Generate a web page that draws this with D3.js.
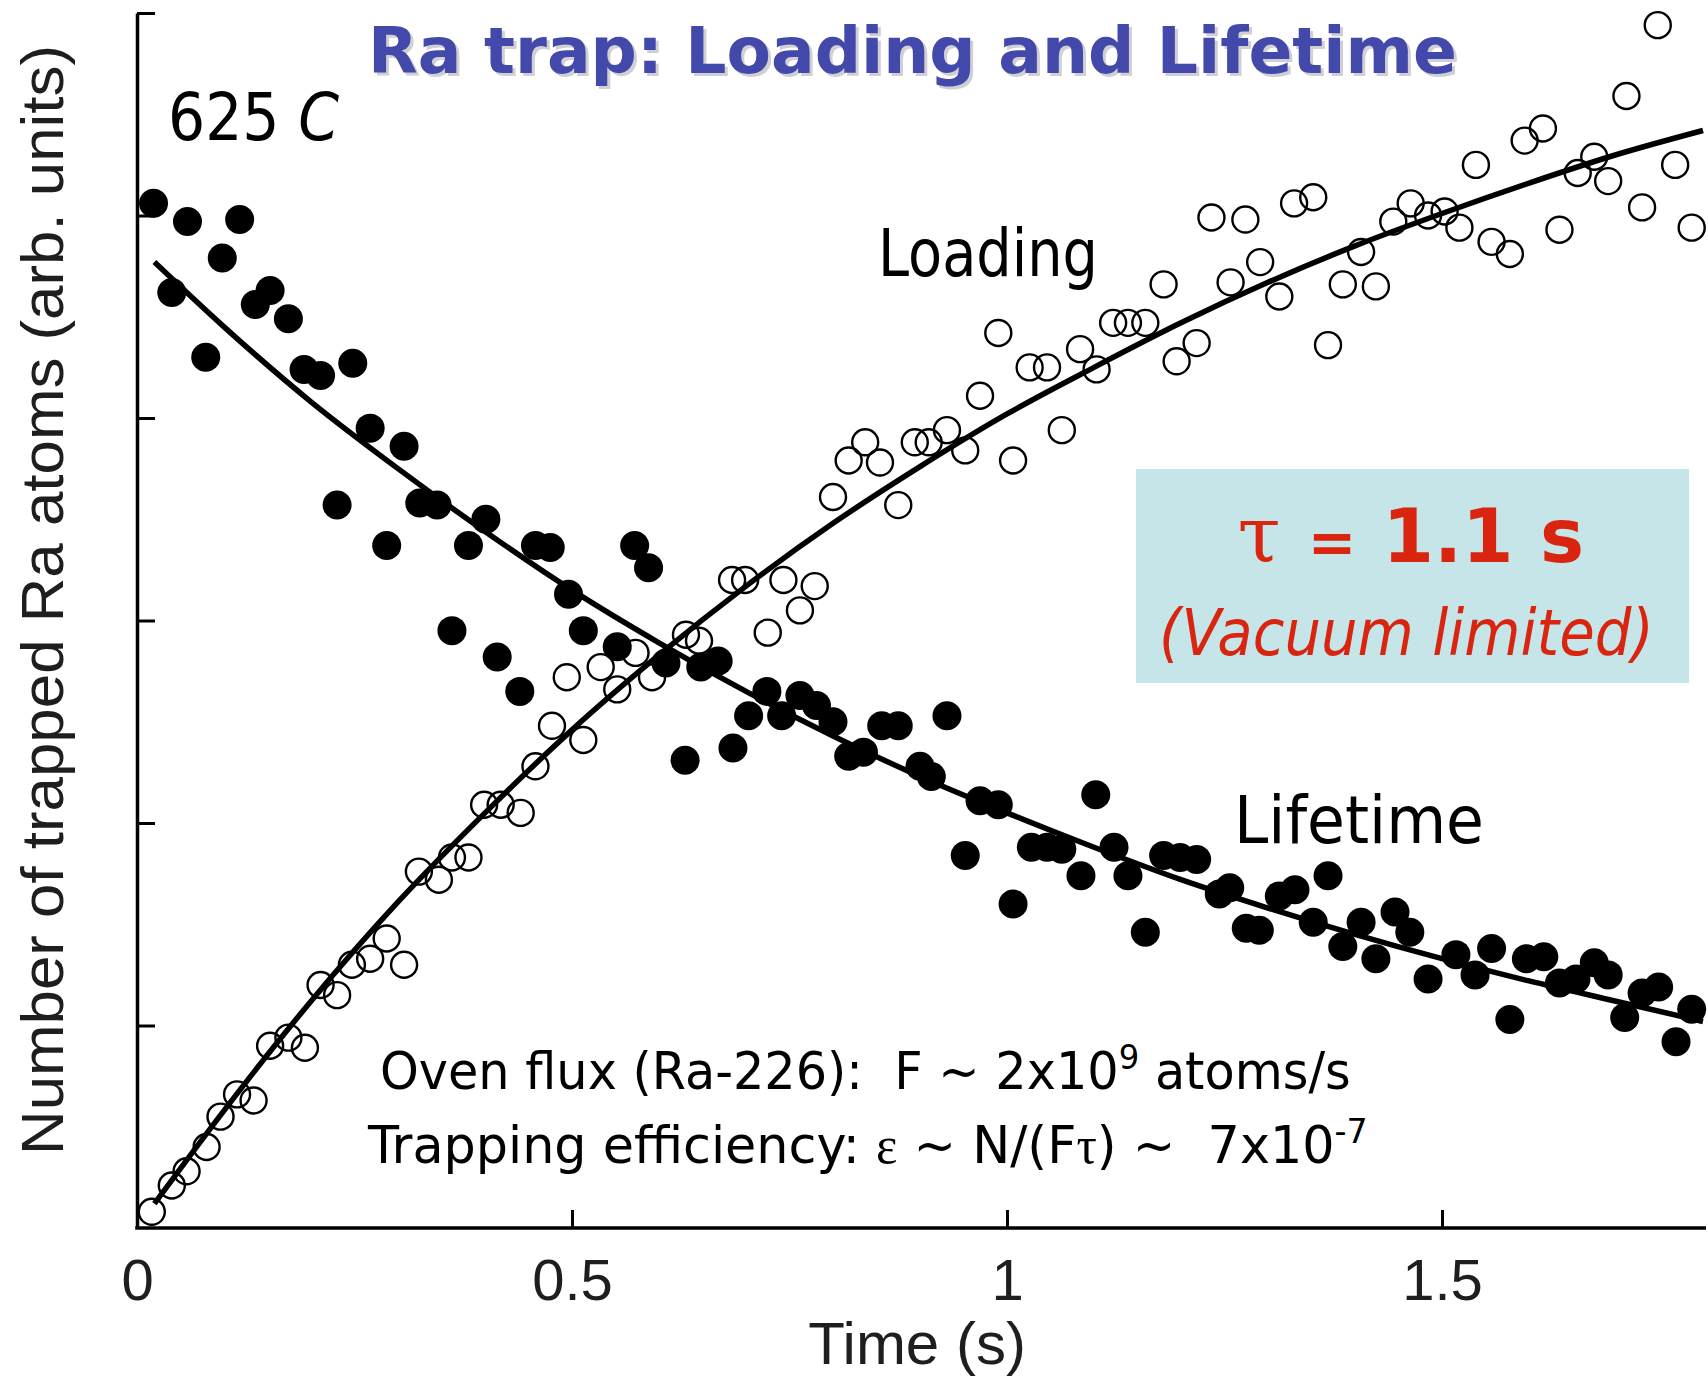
<!DOCTYPE html>
<html><head><meta charset="utf-8">
<script src="https://cdn.jsdelivr.net/npm/d3@7"></script>
<style>html,body{margin:0;padding:0;background:#fff;} svg{display:block;} text{white-space:pre;}</style>
</head><body>
<svg id="chart" width="1708" height="1387"></svg>
<script>
// ---- data ----
const lifetimePoints = [[0.019,5.06],[0.040,4.62],[0.058,4.97],[0.079,4.30],[0.098,4.79],[0.118,4.98],[0.136,4.56],[0.153,4.63],[0.174,4.49],[0.192,4.24],[0.211,4.21],[0.230,3.57],[0.248,4.27],[0.268,3.95],[0.287,3.37],[0.307,3.86],[0.325,3.58],[0.345,3.57],[0.362,2.95],[0.381,3.37],[0.401,3.50],[0.414,2.82],[0.440,2.65],[0.458,3.37],[0.475,3.36],[0.496,3.13],[0.513,2.95],[0.552,2.87],[0.572,3.37],[0.588,3.26],[0.608,2.79],[0.630,2.31],[0.648,2.77],[0.668,2.80],[0.685,2.37],[0.703,2.53],[0.724,2.65],[0.741,2.53],[0.762,2.63],[0.781,2.58],[0.800,2.50],[0.818,2.33],[0.835,2.35],[0.856,2.48],[0.875,2.48],[0.900,2.28],[0.913,2.23],[0.931,2.53],[0.952,1.84],[0.969,2.11],[0.990,2.09],[1.007,1.60],[1.028,1.88],[1.046,1.88],[1.063,1.87],[1.085,1.74],[1.102,2.14],[1.123,1.88],[1.139,1.74],[1.159,1.46],[1.180,1.84],[1.199,1.83],[1.218,1.82],[1.244,1.65],[1.256,1.68],[1.275,1.48],[1.290,1.47],[1.313,1.64],[1.331,1.67],[1.352,1.51],[1.369,1.74],[1.386,1.39],[1.407,1.51],[1.424,1.33],[1.446,1.56],[1.463,1.46],[1.484,1.23],[1.516,1.35],[1.538,1.25],[1.557,1.38],[1.578,1.03],[1.597,1.33],[1.617,1.34],[1.635,1.21],[1.654,1.23],[1.675,1.31],[1.691,1.25],[1.710,1.04],[1.730,1.16],[1.749,1.19],[1.769,0.92],[1.787,1.08]];

const loadingPoints = [[0.017,0.08],[0.040,0.21],[0.057,0.28],[0.080,0.40],[0.096,0.55],[0.115,0.66],[0.134,0.63],[0.153,0.90],[0.174,0.94],[0.193,0.89],[0.211,1.20],[0.230,1.15],[0.247,1.30],[0.268,1.33],[0.287,1.43],[0.307,1.30],[0.324,1.76],[0.347,1.72],[0.362,1.83],[0.381,1.83],[0.399,2.09],[0.418,2.09],[0.441,2.05],[0.458,2.28],[0.477,2.48],[0.494,2.72],[0.513,2.41],[0.533,2.77],[0.552,2.66],[0.573,2.84],[0.592,2.72],[0.631,2.93],[0.646,2.90],[0.684,3.20],[0.699,3.20],[0.725,2.94],[0.743,3.20],[0.762,3.05],[0.779,3.17],[0.800,3.61],[0.818,3.79],[0.837,3.88],[0.854,3.78],[0.875,3.57],[0.894,3.88],[0.910,3.88],[0.931,3.94],[0.952,3.84],[0.969,4.11],[0.990,4.42],[1.007,3.79],[1.026,4.25],[1.046,4.25],[1.063,3.94],[1.084,4.34],[1.103,4.24],[1.122,4.47],[1.139,4.47],[1.159,4.47],[1.180,4.66],[1.195,4.28],[1.218,4.37],[1.235,4.99],[1.257,4.67],[1.274,4.98],[1.291,4.77],[1.313,4.60],[1.330,5.06],[1.352,5.09],[1.369,4.36],[1.386,4.66],[1.407,4.82],[1.424,4.65],[1.444,4.97],[1.464,5.06],[1.484,5.00],[1.503,5.02],[1.520,4.94],[1.539,5.25],[1.557,4.87],[1.578,4.81],[1.595,5.37],[1.616,5.43],[1.635,4.93],[1.656,5.21],[1.675,5.29],[1.691,5.17],[1.712,5.59],[1.730,5.04],[1.748,5.94],[1.768,5.25],[1.787,4.94]];

const fitT        = [0.02,0.1,0.2,0.3,0.4,0.5,0.6,0.7,0.8,0.9,1.0,1.1,1.2,1.3,1.4,1.5,1.6,1.7,1.8];
const lifetimeFit = [4.77,4.45,4.08,3.75,3.44,3.15,2.89,2.65,2.43,2.23,2.05,1.88,1.72,1.58,1.45,1.33,1.22,1.12,1.02];
const loadingFit  = [0.12,0.58,1.12,1.61,2.05,2.46,2.83,3.17,3.48,3.76,4.02,4.25,4.47,4.67,4.85,5.01,5.16,5.30,5.42];

const xTicks = [0, 0.5, 1, 1.5];
const xTickLabels = ["0", "0.5", "1", "1.5"];
const yTicks = [1, 2, 3, 4, 5, 6];

// ---- drawing ----
const svg = d3.select("#chart");
const x = d3.scaleLinear().domain([0, 1.8]).range([137, 1703]);
const y = d3.scaleLinear().domain([0, 6]).range([1228, 13]);
const ARIAL = "'Liberation Sans', Arial, Helvetica, sans-serif";
const COMIC = "'DejaVu Sans', 'Noto Sans', sans-serif";

// axes
const gx = svg.append("g").attr("transform", "translate(0,1228)")
  .call(d3.axisBottom(x).tickValues(xTicks).tickFormat((d, i) => xTickLabels[i])
    .tickSizeInner(-18).tickSizeOuter(0).tickPadding(31));
gx.select(".domain").attr("stroke", "#000").attr("stroke-width", 3.5)
  .attr("d", "M135.25,0H1706");
gx.selectAll(".tick line").attr("stroke", "#000").attr("stroke-width", 3);
gx.selectAll(".tick text").attr("font-family", ARIAL).attr("font-size", 58).attr("fill", "#1e1e1e");

const gy = svg.append("g").attr("transform", "translate(137,0)")
  .call(d3.axisLeft(y).tickValues(yTicks).tickFormat("").tickSizeInner(-18).tickSizeOuter(0));
gy.select(".domain").attr("stroke", "#000").attr("stroke-width", 3.5);
gy.selectAll(".tick line").attr("stroke", "#000").attr("stroke-width", 3);

// axis titles
svg.append("text").attr("x", 917).attr("y", 1364).attr("text-anchor", "middle")
  .attr("font-family", ARIAL).attr("font-size", 60).attr("fill", "#1e1e1e").text("Time (s)");
svg.append("text").attr("transform", "translate(63,600) rotate(-90)").attr("text-anchor", "middle")
  .attr("font-family", ARIAL).attr("font-size", 60).attr("fill", "#1e1e1e")
  .attr("textLength", 1110).attr("lengthAdjust", "spacingAndGlyphs")
  .text("Number of trapped Ra atoms (arb. units)");

// markers
svg.append("g").selectAll("circle").data(loadingPoints).join("circle")
  .attr("cx", d => x(d[0])).attr("cy", d => y(d[1])).attr("r", 13)
  .attr("fill", "none").attr("stroke", "#000").attr("stroke-width", 2.4);
svg.append("g").selectAll("circle").data(lifetimePoints).join("circle")
  .attr("cx", d => x(d[0])).attr("cy", d => y(d[1])).attr("r", 14.5)
  .attr("fill", "#000");

// fit curves
const line = d3.line().x(d => x(d[0])).y(d => y(d[1])).curve(d3.curveMonotoneX);
svg.append("path").datum(fitT.map((t, i) => [t, lifetimeFit[i]]))
  .attr("d", line).attr("fill", "none").attr("stroke", "#000").attr("stroke-width", 5.5);
svg.append("path").datum(fitT.map((t, i) => [t, loadingFit[i]]))
  .attr("d", line).attr("fill", "none").attr("stroke", "#000").attr("stroke-width", 5.5);

// text helper: place text so its box spans xl..xr with baseline at yb
function fitText(el, xl, xr, yb) {
  const bb = el.node().getBBox();
  const sx = (xr - xl) / bb.width;
  el.attr("transform", `translate(${xl - bb.x * sx},${yb}) scale(${sx},1)`);
  return el;
}
function addText(parts, opts) {
  const t = svg.append("text").attr("x", 0).attr("y", 0)
    .attr("font-family", opts.family || COMIC).attr("font-size", opts.size)
    .attr("font-weight", opts.weight || "normal").attr("fill", opts.fill || "#000");
  if (opts.style) t.attr("font-style", opts.style);
  parts.forEach(p => {
    const s = t.append("tspan").text(p.t);
    if (p.family) s.attr("font-family", p.family);
    if (p.size) s.attr("font-size", p.size);
    if (p.dy) s.attr("dy", p.dy);
    if (p.style) s.attr("font-style", p.style);
    if (p.weight) s.attr("font-weight", p.weight);
  });
  return t;
}

// title with shadow
fitText(addText([{t: "Ra trap: Loading and Lifetime"}], {size: 64, weight: "bold", fill: "#cfcfd4"}), 371, 1460, 76);
fitText(addText([{t: "Ra trap: Loading and Lifetime"}], {size: 64, weight: "bold", fill: "#4349aa"}), 368, 1457, 73);

// labels
fitText(addText([{t: "625 "}, {t: "C", style: "italic"}], {size: 66}), 168, 339, 140);
fitText(addText([{t: "Loading"}], {size: 66}), 878, 1098, 276);
fitText(addText([{t: "Lifetime"}], {size: 66}), 1234, 1484, 843);

// tau box
svg.append("rect").attr("x", 1136).attr("y", 469).attr("width", 553).attr("height", 214).attr("fill", "#c5e5e8");
const RED = "#d9240f";
[["τ", 1259, "'DejaVu Serif', 'Liberation Serif', serif", "normal", 78],
 ["=", 1332, COMIC, "bold", 58],
 ["1.1", 1448, COMIC, "bold", 74],
 ["s", 1562, COMIC, "bold", 74]].forEach(([s, cx, fam, w, fs]) => {
  svg.append("text").attr("x", cx).attr("y", 562).attr("text-anchor", "middle")
    .attr("font-family", fam).attr("font-weight", w).attr("font-size", fs).attr("fill", RED).text(s);
});
fitText(addText([{t: "(Vacuum limited)"}], {size: 64, style: "italic", fill: RED}), 1159, 1654, 655);

// bottom annotations
const SERIF = "'Liberation Serif', 'DejaVu Serif', serif";
fitText(addText([
  {t: "Oven flux (Ra-226):  F ~ 2x10"},
  {t: "9", size: 34, dy: -20},
  {t: " atoms/s", dy: 20}
], {size: 52}), 380, 1351, 1089);
fitText(addText([
  {t: "Trapping efficiency: "},
  {t: "ε", family: SERIF},
  {t: " ~ N/(F"},
  {t: "τ", family: SERIF},
  {t: ") ~  7x10"},
  {t: "-7", size: 34, dy: -20}
], {size: 52}), 367, 1368, 1163);
</script>
</body></html>
